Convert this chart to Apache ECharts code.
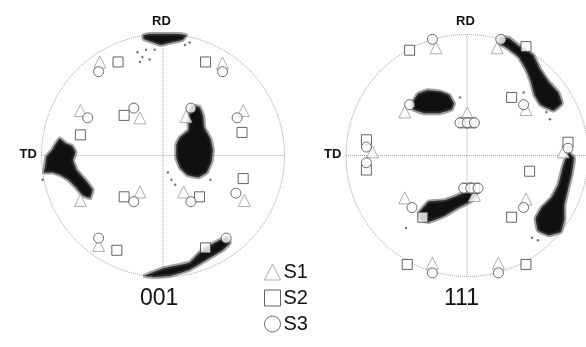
<!DOCTYPE html>
<html>
<head>
<meta charset="utf-8">
<script src="https://cdn.jsdelivr.net/npm/echarts@6/dist/echarts.min.js"></script>
<style>
  html, body { margin: 0; padding: 0; background: #fff; }
  #chart { width: 586px; height: 347px; }
</style>
</head>
<body>
<div id="chart"></div>
<script>
// pole figure coordinates, unit circle (x: TD side negative, y: RD up)
const s1_001 = [[-0.52, 0.77], [0.49, 0.76], [-0.68, 0.37], [-0.19, 0.31], [0.19, 0.32], [0.66, 0.37],
  [-0.68, -0.37], [-0.19, -0.30], [0.17, -0.30], [0.67, -0.37], [-0.53, -0.74]]
const s2_001 = [[-0.37, 0.77], [0.35, 0.77], [-0.32, 0.33], [-0.68, 0.17], [0.65, 0.19], [0.66, -0.19],
  [-0.32, -0.34], [0.30, -0.34], [-0.38, -0.78], [0.35, -0.76]]
const s3_001 = [[-0.53, 0.69], [0.49, 0.69], [-0.62, 0.31], [-0.24, 0.39], [0.23, 0.39], [0.61, 0.31],
  [-0.24, -0.38], [0.23, -0.38], [0.60, -0.31], [-0.53, -0.68], [0.52, -0.68]]

const s1_111 = [[-0.25, 0.89], [0.26, 0.89], [0.50, 0.38], [-0.51, 0.36], [0.01, 0.35], [-0.78, 0.03],
  [0.81, 0.03], [-0.51, -0.35], [0.50, -0.36], [-0.28, -0.89], [0.27, -0.89], [0.07, -0.33]]
const s2_111 = [[-0.47, 0.87], [0.50, 0.90], [0.38, 0.48], [-0.83, 0.13], [-0.83, -0.12], [0.85, 0.11],
  [0.53, -0.13], [-0.36, -0.51], [0.38, -0.51], [-0.49, -0.90], [0.50, -0.90],
  [-0.02, 0.27], [0.04, 0.27], [0.01, -0.27], [0.07, -0.27]]
const s3_111 = [[-0.28, 0.96], [0.29, 0.96], [0.48, 0.42], [-0.47, 0.42], [-0.05, 0.27], [0.01, 0.27],
  [0.07, 0.27], [-0.83, 0.07], [-0.83, -0.06], [0.85, 0.06], [-0.02, -0.27], [0.04, -0.27],
  [0.10, -0.27], [-0.45, -0.43], [0.48, -0.43], [-0.28, -0.97], [0.27, -0.97]]

// outlines of the dense orientation clouds
const blobs001 = [
  [[-0.16, 0.99], [-0.11, 1.0], [0.02, 1.0], [0.12, 1.0], [0.19, 0.99], [0.16, 0.95], [0.07, 0.93],
   [-0.02, 0.91], [-0.11, 0.94], [-0.16, 0.96]],
  [[-0.85, 0.14], [-0.80, 0.10], [-0.75, 0.08], [-0.72, 0.03], [-0.74, -0.04], [-0.71, -0.12],
   [-0.64, -0.20], [-0.58, -0.28], [-0.60, -0.35], [-0.66, -0.33], [-0.72, -0.26], [-0.78, -0.20],
   [-0.85, -0.16], [-0.91, -0.14], [-0.98, -0.14], [-0.97, -0.08], [-0.96, -0.01], [-0.91, 0.05], [-0.88, 0.10]],
  [[0.24, 0.41], [0.30, 0.40], [0.33, 0.33], [0.34, 0.23], [0.39, 0.14], [0.41, 0.05], [0.40, -0.05],
   [0.36, -0.14], [0.29, -0.18], [0.20, -0.16], [0.14, -0.10], [0.11, -0.02], [0.11, 0.09],
   [0.14, 0.15], [0.21, 0.21], [0.21, 0.29], [0.22, 0.36]],
  [[-0.15, -0.99], [0.0, -0.93], [0.14, -0.90], [0.22, -0.88], [0.32, -0.78], [0.44, -0.71],
   [0.53, -0.67], [0.55, -0.72], [0.49, -0.78], [0.39, -0.84], [0.22, -0.94], [0.06, -0.99], [-0.07, -1.0]]
]
const blobs111 = [
  [[0.29, 0.98], [0.36, 0.97], [0.45, 0.90], [0.56, 0.83], [0.62, 0.71], [0.69, 0.61], [0.77, 0.52],
   [0.80, 0.43], [0.73, 0.37], [0.62, 0.42], [0.57, 0.50], [0.54, 0.61], [0.50, 0.71], [0.44, 0.81],
   [0.34, 0.89], [0.27, 0.93]],
  [[-0.45, 0.43], [-0.40, 0.51], [-0.32, 0.54], [-0.22, 0.53], [-0.14, 0.50], [-0.10, 0.43],
   [-0.12, 0.38], [-0.22, 0.35], [-0.35, 0.35], [-0.44, 0.38]],
  [[-0.39, -0.47], [-0.31, -0.38], [-0.18, -0.37], [-0.07, -0.33], [0.02, -0.29], [0.09, -0.31],
   [0.04, -0.38], [-0.06, -0.43], [-0.18, -0.50], [-0.31, -0.55], [-0.38, -0.53]],
  [[0.85, 0.03], [0.90, -0.02], [0.88, -0.16], [0.85, -0.28], [0.82, -0.41], [0.82, -0.53],
   [0.79, -0.63], [0.69, -0.66], [0.60, -0.62], [0.58, -0.52], [0.63, -0.43], [0.71, -0.35],
   [0.77, -0.24], [0.80, -0.12]]
]

// stray points around the clouds
const dots001 = [[-0.21, 0.85], [-0.17, 0.81], [-0.14, 0.87], [-0.11, 0.79], [-0.19, 0.77], [-0.07, 0.87],
  [0.18, 0.91], [0.22, 0.93], [0.07, -0.20], [0.10, -0.24], [0.04, -0.14], [0.39, -0.20], [-0.99, -0.2]]
const dots111 = [[0.67, 0.36], [0.70, 0.30], [-0.50, -0.60], [0.60, -0.70], [0.55, -0.68], [-0.05, 0.48], [0.48, 0.52]]

const figs = [
  { name: '001', cx: 163, cy: 155.5, r: 121.5, s1: s1_001, s2: s2_001, s3: s3_001, blobs: blobs001, dots: dots001 },
  { name: '111', cx: 467, cy: 155.5, r: 121, s1: s1_111, s2: s2_111, s3: s3_111, blobs: blobs111, dots: dots111 }
]

const chart = echarts.init(document.getElementById('chart'))

const grids = [], xAxes = [], yAxes = [], polars = [], angleAxes = [], radiusAxes = [], series = [], texts = []
figs.forEach((f, i) => {
  grids.push({ left: f.cx - f.r, top: f.cy - f.r, width: 2 * f.r, height: 2 * f.r })
  xAxes.push({ gridIndex: i, min: -1, max: 1, show: false })
  yAxes.push({ gridIndex: i, min: -1, max: 1, show: false })
  polars.push({ center: [f.cx, f.cy], radius: f.r })
  angleAxes.push({
    polarIndex: i, type: 'value', min: 0, max: 360, interval: 90, startAngle: 0,
    axisLine: { lineStyle: { color: '#9a9a9a', type: 'dotted', width: 1 } },
    axisTick: { show: false }, axisLabel: { show: false },
    splitLine: { show: true, lineStyle: { color: '#a8a8a8', type: 'dotted', width: 1 } }
  })
  radiusAxes.push({ polarIndex: i, min: 0, max: 1, show: false, splitLine: { show: false } })

  series.push({
    type: 'scatter', xAxisIndex: i, yAxisIndex: i, data: f.dots, symbolSize: 2.5,
    itemStyle: { color: '#555' }, silent: true, z: 2
  })
  series.push({
    type: 'custom', xAxisIndex: i, yAxisIndex: i, z: 3, silent: true,
    data: f.blobs.map((b, k) => [k]),
    renderItem: (params, api) => {
      const pts = f.blobs[api.value(0)].map(p => api.coord(p))
      return {
        type: 'polygon',
        shape: { points: pts, smooth: 0.1 },
        style: { fill: '#101010', stroke: 'rgba(70,70,70,0.5)', lineWidth: 4, lineJoin: 'round' }
      }
    }
  })
  series.push({
    name: 'S1', type: 'scatter', xAxisIndex: i, yAxisIndex: i, data: f.s1, symbol: 'triangle', symbolSize: 12,
    itemStyle: { color: '#fff', borderColor: '#9a9a9a', borderWidth: 1 }, z: 4
  })
  series.push({
    name: 'S2', type: 'scatter', xAxisIndex: i, yAxisIndex: i, data: f.s2, symbol: 'rect', symbolSize: 10,
    itemStyle: { color: '#fff', borderColor: '#3c3c3c', borderWidth: 1 }, z: 4
  })
  series.push({
    name: 'S3', type: 'scatter', xAxisIndex: i, yAxisIndex: i, data: f.s3, symbol: 'circle', symbolSize: 10,
    itemStyle: { color: '#fff', borderColor: '#4a4a4a', borderWidth: 1 }, z: 5
  })

  texts.push({ type: 'text', left: f.cx - 11, top: 15, style: { text: 'RD', font: 'bold 13px Arial', fill: '#111' } })
  texts.push({ type: 'text', left: f.cx - f.r - 22, top: f.cy - 8, style: { text: 'TD', font: 'bold 13px Arial', fill: '#111' } })
  texts.push({ type: 'text', left: f.cx - 23, top: 287, style: { text: f.name, font: '23px Arial', fill: '#111' } })
})

chart.setOption({
  animation: false,
  backgroundColor: '#fff',
  grid: grids,
  xAxis: xAxes,
  yAxis: yAxes,
  polar: polars,
  angleAxis: angleAxes,
  radiusAxis: radiusAxes,
  legend: {
    orient: 'vertical', left: 259, top: 257, height: 86, itemWidth: 16, itemHeight: 16, itemGap: 6,
    textStyle: { fontSize: 20, fontFamily: 'Arial', color: '#111', lineHeight: 16, padding: [0, 0, 0, -2] },
    data: [
      { name: 'S1', icon: 'triangle', itemStyle: { color: '#fff', borderColor: '#9a9a9a', borderWidth: 1 } },
      { name: 'S2', icon: 'rect', itemStyle: { color: '#fff', borderColor: '#3c3c3c', borderWidth: 1 } },
      { name: 'S3', icon: 'circle', itemStyle: { color: '#fff', borderColor: '#4a4a4a', borderWidth: 1 } }
    ]
  },
  graphic: texts,
  series: series
})
</script>
</body>
</html>
